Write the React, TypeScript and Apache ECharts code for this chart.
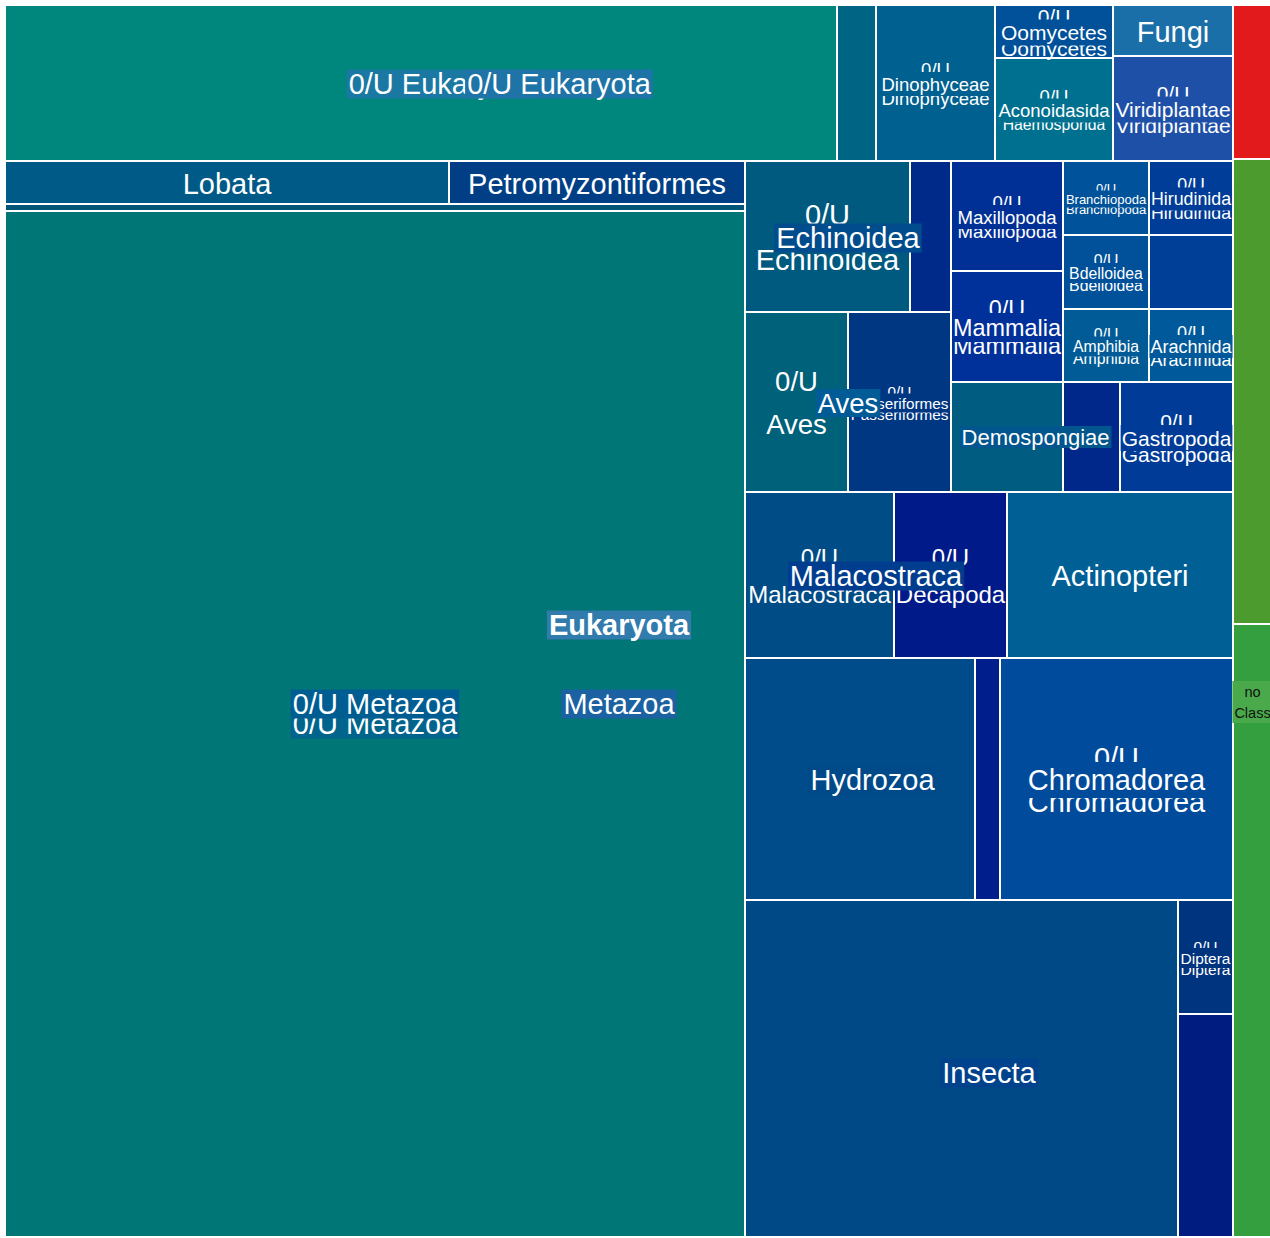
import React, { useEffect, useRef } from 'react';
import * as echarts from 'echarts';

// ---------------- DATA (hierarchy as flat parallel arrays) ----------------
// value = cell size (px² of each leaf), 0 for groups.
// Groups with an empty name only bundle cells the way the reference tiles them.
const nodeKeys = [
  'euk', 'red', 'noclass',
  'k0u', 'fv', 'metazoa',
  'c0ug', 'dino', 'oa',
  'c0u', 'teal',
  'oomy', 'acon',
  'fungi', 'viri',
  'm0u', 'g1', 'malac', 'actin', 'hydro', 'chrom', 'insc',
  'lobata', 'petro', 'mrest',
  'thin', 'm0uo',
  'echc', 'avesc', 'g2', 'demc', 'gastro',
  'ech1', 'ech2', 'aves1', 'passer',
  'maxi', 'mamm', 'g3',
  'branch', 'hirud', 'bdell', 'amph', 'g3x', 'arach',
  'dem1', 'dem2', 'mal1', 'deca', 'hyd1', 'hyd2',
  'ins1', 'dipt', 'ins2',
  'gr1', 'gr2',
];
const nodeParents = [
  '', '', '',
  'euk', 'euk', 'euk',
  'k0u', 'k0u', 'k0u',
  'c0ug', 'c0ug',
  'oa', 'oa',
  'fv', 'fv',
  'metazoa', 'metazoa', 'metazoa', 'metazoa', 'metazoa', 'metazoa', 'metazoa',
  'm0u', 'm0u', 'm0u',
  'mrest', 'mrest',
  'g1', 'g1', 'g1', 'g1', 'g1',
  'echc', 'echc', 'avesc', 'avesc',
  'g2', 'g2', 'g2',
  'g3', 'g3', 'g3', 'g3', 'g3', 'g3',
  'demc', 'demc', 'malac', 'malac', 'hydro', 'hydro',
  'insc', 'insc', 'insc',
  'noclass', 'noclass',
];
const nodeNames = [
  'Eukaryota', '0/U', 'no Class',
  '0/U Eukaryota', '', 'Metazoa',
  '0/U Eukaryota', 'Dinophyceae', '',
  '0/U Eukaryota', '0/U',
  'Oomycetes', 'Aconoidasida',
  'Fungi', 'Viridiplantae',
  '0/U Metazoa', '', 'Malacostraca', 'Actinopteri', 'Hydrozoa', 'Chromadorea', 'Insecta',
  'Lobata', 'Petromyzontiformes', '',
  '0/U', '0/U Metazoa',
  'Echinoidea', 'Aves', '', 'Demospongiae', 'Gastropoda',
  '0/U Echinoidea', 'Echinoidea', '0/U Aves', 'Passeriformes',
  'Maxillopoda', 'Mammalia', '',
  'Branchiopoda', 'Hirudinida', 'Bdelloidea', 'Amphibia', '0/U', 'Arachnida',
  '0/U Demospongiae', 'Demospongiae', '0/U Malacostraca', 'Decapoda', '0/U Hydrozoa', 'Hydrozoa',
  '0/U Insecta', 'Diptera', 'Insecta',
  'no Class', 'no Class',
];
const nodeValues = [
  0, 6006, 0,
  0, 0, 0,
  0, 18564, 0,
  129792, 6084,
  6254, 12154,
  6120, 12600,
  0, 0, 0, 37516, 0, 56386, 0,
  19092, 12728, 0,
  5180, 759240,
  0, 0, 0, 0, 12430,
  24915, 6191, 18540, 18540,
  12320, 12432, 0,
  6364, 6216, 6364, 6278, 6216, 6132,
  12320, 6270, 24734, 18758, 55660, 6050,
  145921, 6270, 12265,
  18135, 23907,
];

// leaf labels: three stacked lines (top / middle / bottom)
const leafLabelKeys = ['dino', 'oomy', 'acon', 'viri', 'ech1', 'maxi', 'mamm', 'branch', 'hirud', 'bdell', 'amph', 'arach', 'aves1', 'passer', 'gastro', 'mal1', 'deca', 'chrom', 'dipt'];
const leafTop = ['0/U', '0/U', '0/U', '0/U', '0/U', '0/U', '0/U', '0/U', '0/U', '0/U', '0/U', '0/U', '0/U', '0/U', '0/U', '0/U', '0/U', '0/U', '0/U'];
const leafMid = ['Dinophyceae', 'Oomycetes', 'Aconoidasida', 'Viridiplantae', '', 'Maxillopoda', 'Mammalia', 'Branchiopoda', 'Hirudinida', 'Bdelloidea', 'Amphibia', 'Arachnida', '', 'Passeriformes', 'Gastropoda', '', '', 'Chromadorea', 'Diptera'];
const leafBottom = ['Dinophyceae', 'Oomycetes', 'Haemosporida', 'Viridiplantae', 'Echinoidea', 'Maxillopoda', 'Mammalia', 'Branchiopoda', 'Hirudinida', 'Bdelloidea', 'Amphibia', 'Arachnida', 'Aves', 'Passeriformes', 'Gastropoda', 'Malacostraca', 'Decapoda', 'Chromadorea', 'Diptera'];

// single-line leaf labels
const singleLabelKeys = ['fungi', 'lobata', 'petro', 'actin'];
const singleLabelTexts = ['Fungi', 'Lobata', 'Petromyzontiformes', 'Actinopteri'];

// group labels (drawn last, on boxes)
const groupLabelKeys = ['m0uo', 'c0ug', 'm0u', 'echc', 'avesc', 'demc', 'malac', 'hydro', 'insc', 'k0u', 'metazoa', 'euk', 'noclass'];
const groupLabelTexts = ['0/U Metazoa', '0/U Eukaryota', '0/U Metazoa', 'Echinoidea', 'Aves', 'Demospongiae', 'Malacostraca', 'Hydrozoa', 'Insecta', '0/U Eukaryota', 'Metazoa', 'Eukaryota', 'no\nClass'];

// ---------------- STYLES ----------------
const FONT = '"Liberation Sans", Arial, Helvetica, sans-serif';
const cellColors: Record<string, string> = {
  c0u: '#00877d', teal: '#006485', dino: '#00608f', oomy: '#00519a', acon: '#007090',
  fungi: '#1b6fa8', viri: '#1f50a8', red: '#e31a1c', gr1: '#4b9b2f', gr2: '#349f3e',
  lobata: '#005a87', petro: '#003f86', thin: '#005578', m0uo: '#007676',
  ech1: '#005a80', ech2: '#002a8a', maxi: '#002f96', mamm: '#00309a',
  branch: '#00529a', hirud: '#003d98', bdell: '#00509a', g3x: '#003f98', amph: '#005b97', arach: '#00599a',
  aves1: '#00617b', passer: '#003783', dem1: '#005c80', dem2: '#00288a', gastro: '#003c97',
  mal1: '#004c86', deca: '#001b89', actin: '#006096', hyd1: '#004b89', hyd2: '#001f8c',
  chrom: '#004b9b', ins1: '#004987', dipt: '#00347f', ins2: '#001c80',
};
const leafFont = [18.5, 21, 18.5, 21, 29, 18.6, 23.4, 13, 17.8, 15.8, 15.8, 18, 27.5, 15.3, 21, 24, 24, 29, 15.5];
const leafBottomFont: Record<string, number> = { acon: 15.8 };
const singleFont = [29, 29, 29, 29];
const groupFont = [29, 29, 29, 29, 27.5, 22, 29, 29, 29, 29, 29, 29, 14.5];
const groupBg = ['#00648c', '#1a78a2', '#005d92', '#004c8d', '#005b97', '#00568d', '#003d8e', '#004a8a', '#00428c', '#1e74a6', '#1c61a1', '#317bad', '#4aa94a'];
const groupDy = [0, 1, 5, 1.5, 1, 0, 1, 1, 4.5, 1, 5, 4, 4];

function buildTree() {
  const map: Record<string, any> = {};
  const roots: any[] = [];
  nodeKeys.forEach((k, i) => {
    const n: any = { name: nodeNames[i], key: k };
    if (nodeValues[i] > 0) {
      n.value = nodeValues[i];
      n.itemStyle = { color: cellColors[k] || '#004a8a', borderWidth: 1, borderColor: '#fff' };
    } else {
      n.children = [];
    }
    map[k] = n;
    const p = nodeParents[i];
    if (p) map[p].children.push(n);
    else roots.push(n);
  });
  return roots;
}

function collectRects(chart: any) {
  const rects: Record<string, { x: number; y: number; w: number; h: number }> = {};
  try {
    const sm = chart.getModel().getSeriesByIndex(0);
    const data = sm.getData();
    const li = sm.layoutInfo || { x: 0, y: 0 };
    const walk = (node: any, ox: number, oy: number) => {
      const l = node.getLayout();
      if (!l) return;
      const x = ox + (l.x || 0);
      const y = oy + (l.y || 0);
      let key: any;
      try { key = node.getModel().get('key'); } catch (e) { key = null; }
      if (key) rects[key] = { x, y, w: l.width, h: l.height };
      (node.children || []).forEach((c: any) => walk(c, x, y));
    };
    walk(data.tree.root, li.x, li.y);
  } catch (e) {
    // ignore
  }
  return rects;
}

function buildLabels(rects: Record<string, any>) {
  const els: any[] = [];
  let z = 100;
  const add = (text: string, x: number, y: number, size: number, o: any = {}) => {
    els.push({
      type: 'text', x, y, z: z++, silent: true,
      style: {
        text, fill: o.color || '#fff', fontSize: size, fontFamily: FONT,
        fontWeight: o.bold ? 'bold' : 'normal', align: 'center', verticalAlign: 'middle',
        backgroundColor: o.bg, padding: o.pad, lineHeight: o.lh,
      },
    });
  };
  leafLabelKeys.forEach((k, i) => {
    const r = rects[k];
    if (!r) return;
    const cx = r.x + r.w / 2;
    const cy = r.y + r.h / 2 + 1;
    const f = leafFont[i];
    const s = 0.77 * f;
    add(leafTop[i], cx, cy - s, f);
    add(leafBottom[i], cx, cy + s, leafBottomFont[k] || f);
  });
  leafLabelKeys.forEach((k, i) => {
    const r = rects[k];
    if (!r || !leafMid[i]) return;
    const f = leafFont[i];
    add(leafMid[i], r.x + r.w / 2, r.y + r.h / 2 + 1, f, {
      bg: cellColors[k], pad: [Math.round(0.2 * f), 1, Math.round(0.05 * f), 1],
    });
  });
  singleLabelKeys.forEach((k, i) => {
    const r = rects[k];
    if (!r) return;
    add(singleLabelTexts[i], r.x + r.w / 2, r.y + r.h / 2 + 1, singleFont[i]);
  });
  groupLabelKeys.forEach((k, i) => {
    const r = rects[k];
    if (!r) return;
    const isNo = k === 'noclass';
    add(groupLabelTexts[i], r.x + r.w / 2, r.y + r.h / 2 + groupDy[i], groupFont[i], {
      bg: groupBg[i], pad: [0, 2],
      bold: k === 'euk', color: isNo ? '#111' : '#fff', lh: isNo ? 21 : undefined,
    });
  });
  return els;
}

export default function App() {
  const ref = useRef<HTMLDivElement>(null);
  useEffect(() => {
    if (!ref.current) return;
    const chart = echarts.init(ref.current, null, { renderer: 'svg' });
    chart.setOption({
      animation: false,
      series: [
        {
          type: 'treemap',
          left: 5, top: 5, width: 1267, height: 1232,
          sort: false,
          squareRatio: 1,
          roam: false,
          nodeClick: false,
          breadcrumb: { show: false },
          label: { show: false },
          upperLabel: { show: false },
          itemStyle: { borderWidth: 0, gapWidth: 0, borderColor: '#fff' },
          data: buildTree(),
        },
      ],
    });
    const rects = collectRects(chart);
    chart.setOption({ graphic: { elements: buildLabels(rects) } });
    return () => chart.dispose();
  }, []);
  return <div ref={ref} style={{ position: 'absolute', left: 0, top: 0, width: 1270, height: 1238 }} />;
}
